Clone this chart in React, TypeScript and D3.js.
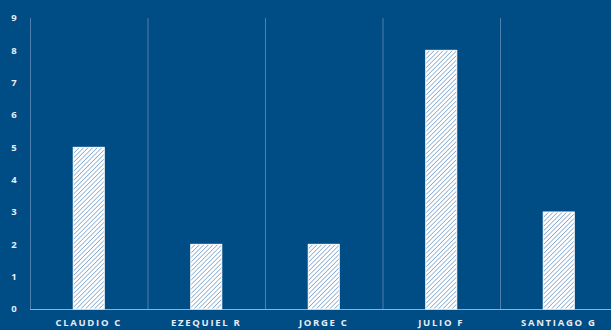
import React from "react";
import * as d3 from "d3";

const categories = ["CLAUDIO C", "EZEQUIEL R", "JORGE C", "JULIO F", "SANTIAGO G"];
const values = [5, 2, 2, 8, 3];
const yTicks = [0, 1, 2, 3, 4, 5, 6, 7, 8, 9];

const W = 611;
const H = 330;
const BG = "#004C85";

export default function App() {
  const left = 30;
  const step = 117.5;
  const x = d3
    .scaleBand<string>()
    .domain(categories)
    .range([left, left + step * categories.length])
    .paddingInner(0)
    .paddingOuter(0);
  const y = d3.scaleLinear().domain([0, 9]).range([309, 18]);
  const barW = 31;

  return (
    <svg
      width={W}
      height={H}
      style={{ position: "absolute", left: 0, top: 0, display: "block" }}
    >
      <defs>
        <pattern
          id="hatch"
          patternUnits="userSpaceOnUse"
          width={3.2}
          height={3.2}
          patternTransform="rotate(45)"
        >
          <rect width={3.2} height={3.2} fill="#ffffff" />
          <line x1={0} y1={0} x2={0} y2={3.2} stroke="#6b97c6" strokeWidth={1.3} />
        </pattern>
      </defs>
      <rect width={W} height={H} fill={BG} />
      {categories.map((c) => (
        <line
          key={"g" + c}
          x1={x(c)! + 0.5}
          x2={x(c)! + 0.5}
          y1={y(9)}
          y2={y(0)}
          stroke="#4f7fae"
          strokeWidth={1}
        />
      ))}
      <line
        x1={left + step * categories.length + 0.5}
        x2={left + step * categories.length + 0.5}
        y1={y(9)}
        y2={y(0)}
        stroke="#4f7fae"
      />
      <line x1={left} x2={W} y1={y(0) + 0.5} y2={y(0) + 0.5} stroke="#8fb0d0" strokeWidth={1.2} />
      {yTicks.map((t) => (
        <text
          key={"t" + t}
          x={14}
          y={y(t)}
          dy="0.35em"
          textAnchor="middle"
          fill="#e8eef5"
          fontFamily="Open Sans, sans-serif"
          fontWeight={700}
          fontSize={9.5}
        >
          {t}
        </text>
      ))}
      {categories.map((c, i) => {
        const cx = x(c)! + x.bandwidth() / 2;
        return (
          <g key={c}>
            <rect
              x={cx - barW / 2}
              y={y(values[i])}
              width={barW}
              height={y(0) - y(values[i])}
              fill="url(#hatch)"
              stroke="#ffffff"
              strokeWidth={1}
            />
            <text
              x={cx}
              y={326}
              textAnchor="middle"
              fill="#e8eef5"
              fontFamily="Open Sans, sans-serif"
              fontWeight={700}
              fontSize={9.5}
              letterSpacing={1.7}
            >
              {c}
            </text>
          </g>
        );
      })}
    </svg>
  );
}
